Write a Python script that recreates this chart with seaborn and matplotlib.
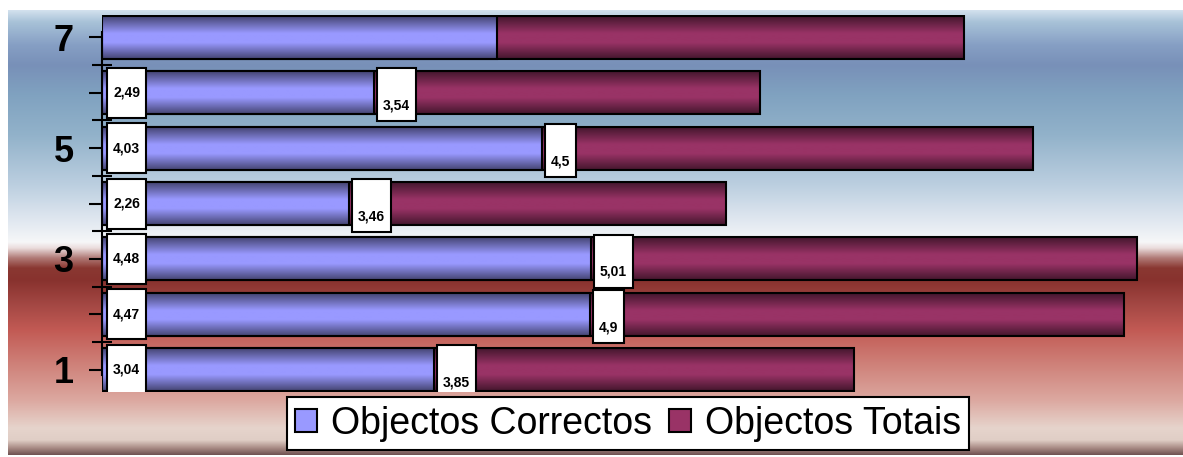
import numpy as np
import pandas as pd
import matplotlib
matplotlib.use("Agg")
import matplotlib.pyplot as plt
import seaborn as sns
from matplotlib.colors import to_rgb
from matplotlib.patches import Rectangle, Patch

# Dados do gráfico
categorias = [1, 2, 3, 4, 5, 6, 7]
correctos = [3.04, 4.47, 4.48, 2.26, 4.03, 2.49, 3.62]
totais = [3.85, 4.9, 5.01, 3.46, 4.5, 3.54, 4.28]
etiquetas_y = ['1', '', '3', '', '5', '', '7']
series = ['Objectos Correctos', 'Objectos Totais']

cor_azul = '#9999ff'
cor_bordo = '#993366'

plt.rcParams['font.family'] = ['Liberation Sans', 'DejaVu Sans']

df = pd.DataFrame({'cat': categorias, 'correctos': correctos, 'totais': totais})
df['soma'] = df['correctos'] + df['totais']

W, H = 1183, 457
fig = plt.figure(figsize=(W / 100, H / 100), dpi=100)

# Fundo em degradê (azul -> branco -> vermelho)
paradas = [
    (10, '#d4e2ee'), (22, '#a8c2d8'), (45, '#869fc4'), (65, '#7890b8'),
    (95, '#80a2c0'), (135, '#92b2ca'), (185, '#bccfe0'), (222, '#e2e9f1'),
    (242, '#f6f7f8'), (248, '#eadcdc'), (258, '#b07a76'), (268, '#8a3832'),
    (280, '#88322e'), (305, '#a44844'), (330, '#c25a54'), (365, '#cf827a'),
    (400, '#dca8a0'), (428, '#e6d4cc'), (440, '#e0cec6'), (448, '#a88a84'),
    (455, '#6e5050'),
]
ys = np.array([p[0] for p in paradas], dtype=float)
cores = np.array([to_rgb(p[1]) for p in paradas])
linhas = np.arange(10, 455) + 0.5
grad = np.stack([np.interp(linhas, ys, cores[:, k]) for k in range(3)], axis=1)
bg = fig.add_axes([8 / W, 1 - 455 / H, 1 - 8 / W, 445 / H], zorder=-1)
bg.imshow(grad[:, None, :], aspect='auto', extent=(0, 1, 0, 1))
bg.axis('off')

# Eixo principal
ax = fig.add_axes([102 / W, 1 - 392 / H, (W - 102) / W, 377 / H])
ax.patch.set_alpha(0)

sns.barplot(data=df, x='soma', y='cat', orient='h', native_scale=True,
            color=cor_bordo, saturation=1, width=0.775, errorbar=None,
            edgecolor='black', linewidth=1.5, ax=ax)
sns.barplot(data=df, x='correctos', y='cat', orient='h', native_scale=True,
            color=cor_azul, saturation=1, width=0.775, errorbar=None,
            edgecolor='black', linewidth=1.5, ax=ax)

# Efeito de cilindro nas barras
def sombra(cor):
    claro = np.array(to_rgb(cor))
    escuro = claro * 0.45
    pos = np.linspace(0, 1, 60)
    t = np.interp(pos, [0, 0.4, 0.62, 1], [0, 1, 1, 0])
    return (escuro[None, :] + (claro - escuro)[None, :] * t[:, None])[:, None, :]

n = len(categorias)
for i, p in enumerate(ax.patches):
    cor = cor_bordo if i < n else cor_azul
    base = 2 if i < n else 3
    x0, y0, w, h = p.get_x(), p.get_y(), p.get_width(), p.get_height()
    ax.imshow(sombra(cor), aspect='auto', extent=(x0, x0 + w, y0, y0 + h),
              zorder=base, interpolation='bilinear')
    p.set_facecolor('none')
    p.set_zorder(base + 0.5)

xmax = (W - 102) / 109.1
ax.set_xlim(0, xmax)
ax.set_ylim(0.6, 7.4)

for s in ['top', 'right', 'bottom']:
    ax.spines[s].set_visible(False)
ax.spines['left'].set_linewidth(1.5)
ax.spines['left'].set_bounds(0.91, 7.09)
ax.spines['left'].set_zorder(4.6)

ax.set_xticks([])
ax.set_yticks(categorias)
ax.set_yticklabels(etiquetas_y, fontsize=26, fontweight='bold')
ax.set_yticks(np.array(categorias[:-1]) + 0.5, minor=True)
ax.tick_params(axis='y', which='major', direction='inout', length=19, width=1.5, pad=11)
ax.tick_params(axis='y', which='minor', direction='inout', length=14, width=1.5)
ax.set_xlabel('')
ax.set_ylabel('')

# Rótulos de dados em caixas brancas
renderer = fig.canvas.get_renderer()
o = ax.transData.transform((0, 0))
ux = 1 / (ax.transData.transform((1, 0))[0] - o[0])
uy = 1 / (ax.transData.transform((0, 1))[1] - o[1])

def caixa(x_esq, y_c, valor, desce=0, alto=50):
    texto = f'{valor:g}'.replace('.', ',')
    t = ax.text(0, 0, texto, fontsize=10, fontweight='bold', ha='center',
                va='center', zorder=8)
    larg = (t.get_window_extent(renderer).width + 12) * ux
    t.set_position((x_esq + larg / 2, y_c - desce * uy))
    ax.add_patch(Rectangle((x_esq, y_c - alto / 2 * uy - desce / 6 * uy), larg, alto * uy,
                           facecolor='white', edgecolor='black', linewidth=1.5, zorder=7))

# a última categoria fica sem rótulos (cortados no topo, como no original)
for c, a, tot in zip(categorias[:-1], correctos[:-1], totais[:-1]):
    caixa(5 * ux, c, a)
    caixa(a + 3 * ux, c, tot, desce=13, alto=53)

# Legenda
alca = [Patch(facecolor=cor_azul, edgecolor='black', linewidth=1.5),
        Patch(facecolor=cor_bordo, edgecolor='black', linewidth=1.5)]
leg = fig.legend(alca, series, loc='center', bbox_to_anchor=(628 / W, 1 - 423.5 / H),
                 ncol=2, fontsize=27, frameon=True, fancybox=False, framealpha=1,
                 edgecolor='black', handlelength=0.58, handleheight=0.58,
                 handletextpad=0.38, columnspacing=0.45, borderpad=0.22)
leg.get_frame().set_linewidth(1.5)

fig.savefig('out.png', dpi=100, facecolor='white')
